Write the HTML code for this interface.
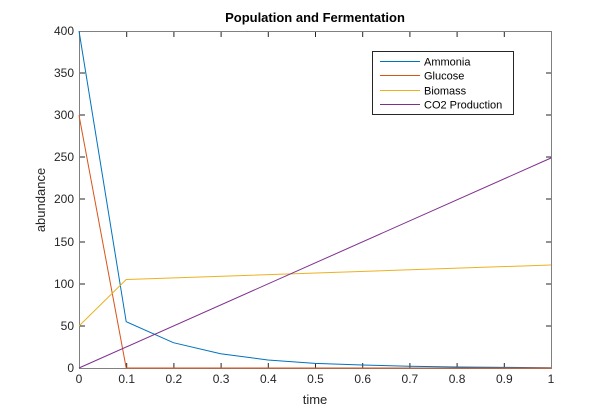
<!DOCTYPE html>
<html><head><style>body{margin:0;background:#fff}svg{display:block;font-family:"Liberation Sans",sans-serif}</style></head><body>
<svg width="609" height="413" viewBox="0 0 609 413">
<rect width="609" height="413" fill="#fff"/>
<text x="315" y="22" font-size="13" font-weight="bold" text-anchor="middle" fill="#000">Population and Fermentation</text>
<g stroke="#262626" stroke-width="1" fill="none">
<rect x="79.5" y="31.5" width="472" height="337" stroke="#808080"/>
</g>
<g stroke="#262626" stroke-width="1">
<path d="M126.7 368v-5M173.9 368v-5M221.1 368v-5M268.3 368v-5M315.5 368v-5M362.7 368v-5M409.9 368v-5M457.1 368v-5M504.3 368v-5
M126.7 32v5M173.9 32v5M221.1 32v5M268.3 32v5M315.5 32v5M362.7 32v5M409.9 32v5M457.1 32v5M504.3 32v5
M80 326h5M80 284h5M80 242h5M80 199h5M80 157h5M80 115h5M80 73h5
M551 326h-5M551 284h-5M551 242h-5M551 199h-5M551 157h-5M551 115h-5M551 73h-5"/>
</g>
<g font-size="12" fill="#262626" text-anchor="middle">
<text x="79" y="383">0</text><text x="126.7" y="383">0.1</text><text x="173.9" y="383">0.2</text><text x="221.1" y="383">0.3</text><text x="268.3" y="383">0.4</text><text x="315.5" y="383">0.5</text><text x="362.7" y="383">0.6</text><text x="409.9" y="383">0.7</text><text x="457.1" y="383">0.8</text><text x="504.3" y="383">0.9</text><text x="551" y="383">1</text>
</g>
<g font-size="12" fill="#262626" text-anchor="end">
<text x="74" y="372">0</text><text x="74" y="330">50</text><text x="74" y="288">100</text><text x="74" y="246">150</text><text x="74" y="203">200</text><text x="74" y="161">250</text><text x="74" y="119">300</text><text x="74" y="77">350</text><text x="74" y="35">400</text>
</g>
<text x="315" y="404" font-size="13" text-anchor="middle" fill="#262626">time</text>
<text transform="translate(45 200) rotate(-90)" font-size="13" text-anchor="middle" fill="#262626">abundance</text>
<g fill="none" stroke-width="1">
<polyline stroke="#0072BD" points="79,31 126.2,321.7 173.4,342.7 220.6,353.7 267.8,360 315,363.4 362.2,365 409.4,366.3 456.6,367 503.8,367.4 551,367.7"/>
<polyline stroke="#D95319" points="79,115.3 126.2,368 551,368"/>
<polyline stroke="#EDB120" points="79,326 126.2,279.5 551,265"/>
<polyline stroke="#7E2F8E" points="79,368 551,158"/>
</g>
<rect x="372.5" y="51.5" width="141" height="63" fill="#fff" stroke="#262626"/>
<g stroke-width="1">
<line x1="380" y1="61.5" x2="420" y2="61.5" stroke="#0072BD"/>
<line x1="380" y1="75.5" x2="420" y2="75.5" stroke="#D95319"/>
<line x1="380" y1="90.5" x2="420" y2="90.5" stroke="#EDB120"/>
<line x1="380" y1="104.5" x2="420" y2="104.5" stroke="#7E2F8E"/>
</g>
<g font-size="11" fill="#000">
<text x="424" y="65.5">Ammonia</text>
<text x="424" y="79.5">Glucose</text>
<text x="424" y="94.5">Biomass</text>
<text x="424" y="108.5">CO2 Production</text>
</g>
</svg>
</body></html>
